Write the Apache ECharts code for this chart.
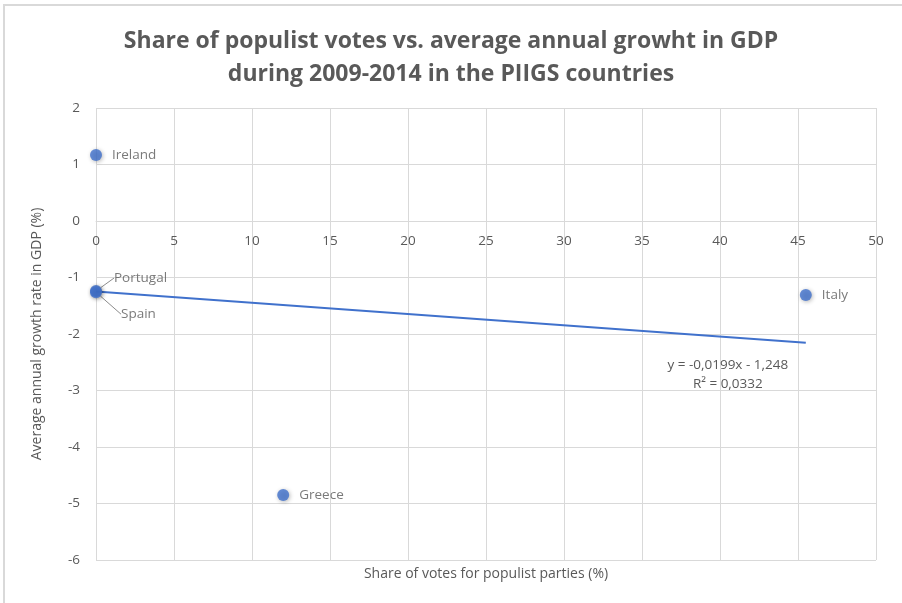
<!DOCTYPE html>
<html>
<head>
<meta charset="utf-8">
<script src="https://cdn.jsdelivr.net/npm/echarts@6/dist/echarts.min.js"></script>
<style>
  html, body { margin: 0; padding: 0; background: #fff; }
  #chart { width: 902px; height: 603px; }
</style>
</head>
<body>
<div id="chart"></div>
<script>
// PIIGS countries: populist vote share (%) vs. average annual GDP growth (%)
const countries = ['Ireland', 'Portugal', 'Spain', 'Italy', 'Greece'];
const voteShare = [0, 0, 0, 45.5, 12.0];
const gdpGrowth = [1.17, -1.24, -1.26, -1.31, -4.85];

// Linear trend as reported: y = -0,0199x - 1,248
const trendSlope = -0.0199;
const trendIntercept = -1.248;
const trendRange = [0, 45.5];

const xTicks = { min: 0, max: 50, interval: 5 };
const yTicks = { min: -6, max: 2, interval: 1 };

const textColor = '#595959';
const gridColor = '#d9d9d9';
const dotColor = '#4071cc';
const fontFamily = '"Open Sans", "Noto Sans", sans-serif';

// label nudges (with leader lines) for the overlapping points at x = 0
const labelShift = {
  Portugal: { dx: 2, dy: -13 },
  Spain: { dx: 9, dy: 22 }
};

const points = countries.map((name, i) => ({
  name: name,
  value: [voteShare[i], gdpGrowth[i]],
  labelLine: { show: !!labelShift[name] }
}));

const trendData = trendRange.map(x => [x, trendIntercept + trendSlope * x]);

const grid = { left: 96, right: 26, top: 108, bottom: 43 };

const chart = echarts.init(document.getElementById('chart'), null, { renderer: 'canvas' });

chart.setOption({
  backgroundColor: '#fff',
  animation: false,
  title: {
    text: 'Share of populist votes vs. average annual growht in GDP\nduring 2009-2014 in the PIIGS countries',
    left: 'center',
    top: 20,
    textStyle: {
      fontFamily: fontFamily,
      fontSize: 23,
      fontWeight: 'bold',
      color: textColor,
      lineHeight: 33
    }
  },
  grid: Object.assign({ containLabel: false }, grid),
  xAxis: {
    type: 'value',
    min: xTicks.min, max: xTicks.max, interval: xTicks.interval,
    axisLine: { show: true, onZero: false, lineStyle: { color: gridColor, width: 1 } },
    axisTick: { show: false },
    axisLabel: { color: textColor, fontSize: 13.5, fontFamily: fontFamily, margin: 13 },
    splitLine: { show: true, lineStyle: { color: gridColor, width: 1 } }
  },
  yAxis: {
    type: 'value',
    min: yTicks.min, max: yTicks.max, interval: yTicks.interval,
    name: 'Average annual growth rate in GDP (%)',
    nameLocation: 'middle',
    nameGap: 52,
    nameTextStyle: { color: textColor, fontSize: 14, fontFamily: fontFamily },
    axisLine: { show: false, onZero: false },
    axisTick: { show: false },
    axisLabel: { color: textColor, fontSize: 13.5, fontFamily: fontFamily, margin: 16 },
    splitLine: { show: true, lineStyle: { color: gridColor, width: 1 } }
  },
  series: [
    {
      type: 'line',
      data: trendData,
      symbol: 'none',
      lineStyle: { color: dotColor, width: 2 },
      silent: true,
      z: 2,
      endLabel: {
        show: true,
        formatter: 'y = -0,0199x - 1,248\nR² = 0,0332',
        color: textColor,
        fontSize: 13.5,
        fontFamily: fontFamily,
        lineHeight: 19,
        align: 'center',
        offset: [-86, 32]
      }
    },
    {
      type: 'scatter',
      data: points,
      symbolSize: 12,
      itemStyle: {
        color: dotColor,
        shadowColor: 'rgba(0,0,0,0.35)',
        shadowBlur: 4,
        shadowOffsetX: 1,
        shadowOffsetY: 1
      },
      z: 3,
      label: {
        show: true,
        position: 'right',
        distance: 10,
        formatter: '{b}',
        color: textColor,
        fontSize: 13.5,
        fontFamily: fontFamily
      },
      labelLine: { lineStyle: { color: '#8c8c8c', width: 1 } },
      labelLayout: function (params) {
        const s = labelShift[countries[params.dataIndex]];
        return s ? { dx: s.dx, dy: s.dy } : {};
      }
    }
  ],
  graphic: [
    {
      type: 'polyline',
      shape: { points: [[4, 603], [4, 5], [902, 5]] },
      style: { stroke: '#d9d9d9', lineWidth: 2, fill: null },
      silent: true
    },
    {
      // x-axis title, centred under the plot area
      type: 'text',
      x: grid.left + (902 - grid.left - grid.right) / 2,
      y: 567,
      style: {
        text: 'Share of votes for populist parties (%)',
        fill: textColor,
        font: '14px "Open Sans", "Noto Sans", sans-serif',
        textAlign: 'center'
      },
      silent: true
    }
  ]
});

// The horizontal axis crosses at y = 0: shift it up from the bottom edge to that value.
const zeroY = chart.convertToPixel({ yAxisIndex: 0 }, 0);
const bottomY = chart.convertToPixel({ yAxisIndex: 0 }, yTicks.min);
chart.setOption({ xAxis: { offset: -(bottomY - zeroY) } });
</script>
</body>
</html>
